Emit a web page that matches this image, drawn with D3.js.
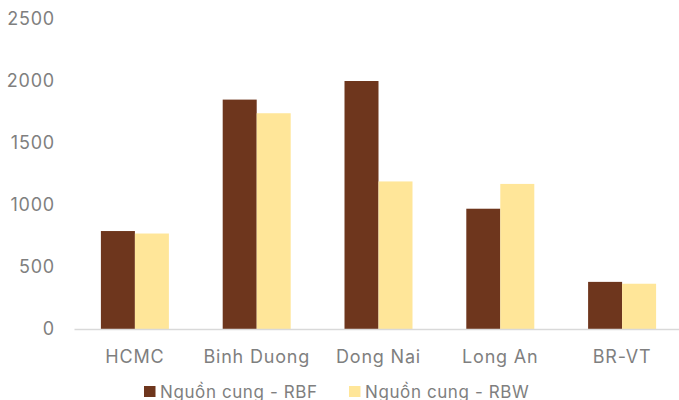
<!DOCTYPE html>
<html>
<head>
<meta charset="utf-8">
<script src="https://cdn.jsdelivr.net/npm/d3@7"></script>
<style>
  html, body { margin: 0; padding: 0; background: #fff; }
  svg { display: block; }
  text { font-family: Inter, "Open Sans", sans-serif; }
</style>
</head>
<body>
<svg id="chart" width="679" height="400"></svg>
<script>
// Supply by province (units)
const categories = ["HCMC", "Binh Duong", "Dong Nai", "Long An", "BR-VT"];
const seriesNames = ["Nguồn cung - RBF", "Nguồn cung - RBW"];
const rbfValues = [790, 1850, 2000, 970, 380];
const rbwValues = [770, 1740, 1190, 1170, 365];
const yTicks = [0, 500, 1000, 1500, 2000, 2500];

const colors = ["#6E361D", "#FFE699"];
const series = [rbfValues, rbwValues];

const svg = d3.select("#chart");
const margin = { left: 74, right: -4, top: 19, bottom: 71 };
const width = 679 - margin.left - margin.right;
const height = 400 - margin.top - margin.bottom;

const g = svg.append("g").attr("transform", `translate(${margin.left},${margin.top})`);

const x = d3.scaleBand().domain(categories).range([0, width]).paddingInner(0).paddingOuter(0);
const x1 = d3.scaleBand().domain(d3.range(series.length)).range([0, 68]).paddingInner(0);
const y = d3.scaleLinear().domain([0, 2500]).range([height, 0]);

// y axis labels
const yAxis = g.append("g").call(
  d3.axisLeft(y).tickValues(yTicks).tickFormat(d3.format("d")).tickSize(0).tickPadding(19)
);
yAxis.select(".domain").remove();
yAxis.selectAll("text").attr("fill", "#7f7f7f")
  .style("font-size", "18px").style("letter-spacing", "0.8px");

// bars
const groups = g.selectAll(".cat").data(categories).join("g")
  .attr("class", "cat")
  .attr("transform", d => `translate(${x(d) + (x.bandwidth() - 68) / 2},0)`);
groups.selectAll("rect").data((d, i) => series.map((s, k) => ({ k, v: s[i] }))).join("rect")
  .attr("x", d => x1(d.k))
  .attr("width", x1.bandwidth())
  .attr("y", d => y(d.v))
  .attr("height", d => y(0) - y(d.v))
  .attr("fill", d => colors[d.k]);

// baseline and category labels
const xAxis = g.append("g").attr("transform", `translate(0,${height})`)
  .call(d3.axisBottom(x).tickSize(0).tickPadding(21));
xAxis.select(".domain").attr("stroke", "#d9d9d9").attr("stroke-width", 1.5);
xAxis.selectAll("text").attr("fill", "#7f7f7f")
  .style("font-size", "18px").style("letter-spacing", "0.8px");

// legend
const legendX = [144, 349];
const legend = svg.append("g");
seriesNames.forEach((name, k) => {
  const lg = legend.append("g").attr("transform", `translate(${legendX[k]},386)`);
  lg.append("rect").attr("width", 11.5).attr("height", 11).attr("fill", colors[k]);
  lg.append("text").attr("x", 16).attr("y", 11.5).attr("fill", "#7f7f7f")
    .style("font-size", "17px").style("letter-spacing", "0.6px").text(name);
});
</script>
</body>
</html>
